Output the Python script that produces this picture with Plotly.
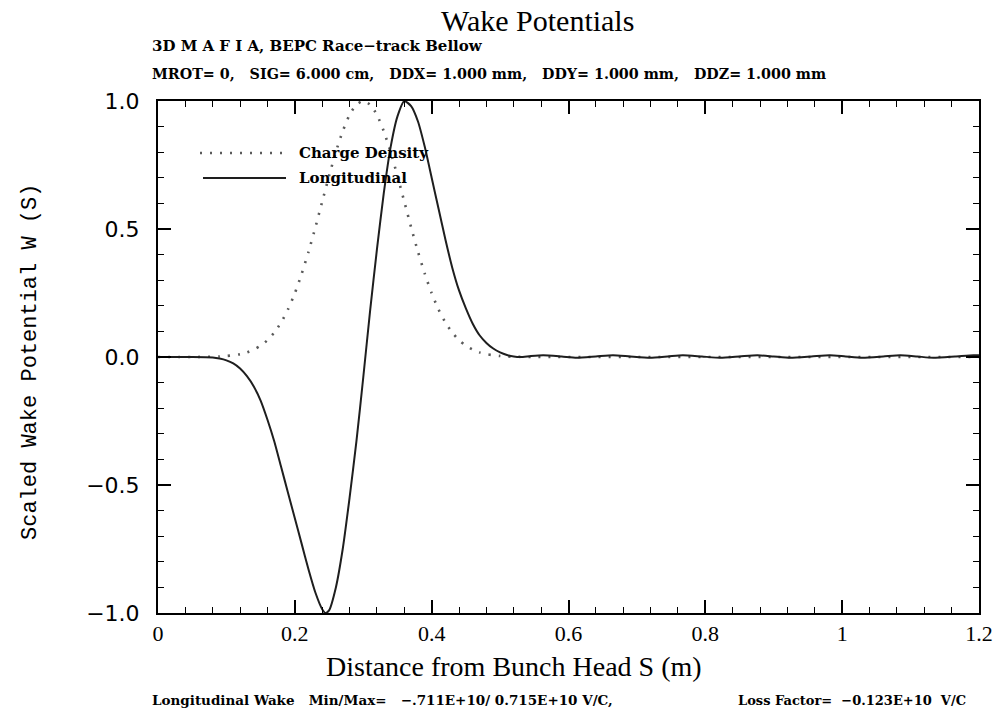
import plotly.graph_objects as go

# ---- data ----
# Longitudinal wake (scaled), s in metres
s_long = [0.00, 0.05, 0.08, 0.09, 0.10, 0.11, 0.12, 0.13, 0.14, 0.15, 0.16, 0.17,
          0.18, 0.19, 0.20, 0.21, 0.22, 0.23, 0.24, 0.245, 0.25, 0.26, 0.27, 0.28,
          0.29, 0.30, 0.31, 0.32, 0.33, 0.34, 0.35, 0.36, 0.37, 0.38, 0.39, 0.40,
          0.41, 0.42, 0.43, 0.44, 0.45, 0.46, 0.47, 0.48, 0.49, 0.50, 0.51, 0.52,
          0.53, 0.545, 0.563, 0.59, 0.612, 0.64, 0.665, 0.69, 0.719, 0.745, 0.767,
          0.795, 0.822, 0.85, 0.876, 0.90, 0.924, 0.955, 0.982, 1.005, 1.03, 1.06,
          1.085, 1.11, 1.133, 1.165, 1.192, 1.20]
w_long = [0.0, 0.0, -0.002, -0.006, -0.013, -0.025, -0.045, -0.075, -0.115, -0.17,
          -0.245, -0.33, -0.43, -0.53, -0.63, -0.73, -0.83, -0.92, -0.985, -1.0,
          -0.99, -0.90, -0.75, -0.55, -0.33, -0.08, 0.18, 0.42, 0.64, 0.82, 0.94,
          1.0, 0.98, 0.92, 0.82, 0.70, 0.58, 0.46, 0.35, 0.26, 0.19, 0.13, 0.085,
          0.055, 0.033, 0.018, 0.008, 0.002, 0.0, 0.004, 0.007, 0.002, -0.003,
          0.002, 0.007, 0.002, -0.003, 0.002, 0.007, 0.002, -0.003, 0.002, 0.007,
          0.002, -0.003, 0.002, 0.007, 0.002, -0.003, 0.002, 0.007, 0.002, -0.003,
          0.002, 0.007, 0.007]

# Charge density (scaled)
s_charge = [0.00, 0.05, 0.08, 0.09, 0.10, 0.11, 0.12, 0.13, 0.14, 0.15, 0.16, 0.17,
            0.18, 0.19, 0.20, 0.21, 0.22, 0.23, 0.24, 0.25, 0.26, 0.27, 0.28, 0.29,
            0.30, 0.31, 0.32, 0.33, 0.34, 0.35, 0.36, 0.37, 0.38, 0.39, 0.40, 0.41,
            0.42, 0.43, 0.44, 0.45, 0.46, 0.47, 0.48, 0.49, 0.50, 0.51, 0.52, 0.55,
            0.70, 0.90, 1.20]
q_charge = [0.0, 0.0, 0.001, 0.002, 0.004, 0.007, 0.011, 0.018, 0.029, 0.044, 0.066,
            0.096, 0.135, 0.186, 0.249, 0.325, 0.411, 0.506, 0.607, 0.707, 0.801,
            0.882, 0.946, 0.986, 1.0, 0.986, 0.946, 0.882, 0.801, 0.707, 0.607, 0.506,
            0.411, 0.325, 0.249, 0.186, 0.135, 0.096, 0.066, 0.044, 0.029, 0.018,
            0.011, 0.007, 0.004, 0.002, 0.001, 0.0, 0.0, 0.0, 0.0]

x_ticks = [0, 0.2, 0.4, 0.6, 0.8, 1.0, 1.2]
x_ticklabels = ["0", "0.2", "0.4", "0.6", "0.8", "1", "1.2"]
y_ticks = [-1.0, -0.5, 0.0, 0.5, 1.0]
y_ticklabels = ["\u22121.0", "\u22120.5", "0.0", "0.5", "1.0"]

SERIF = "Liberation Serif"
BOLD_SERIF = "DejaVu Serif"
DOT = "2px,8px"
NB = "\u00a0"

fig = go.Figure()
fig.add_trace(go.Scatter(x=s_charge, y=q_charge, mode="lines", name="Charge Density",
                         line=dict(color="#5a5a5a", width=2.6, dash=DOT, shape="spline",
                                   smoothing=0.6),
                         showlegend=False, hoverinfo="skip"))
fig.add_trace(go.Scatter(x=s_long, y=w_long, mode="lines", name="Longitudinal",
                         line=dict(color="#1e1e1e", width=2, shape="spline", smoothing=0.6),
                         showlegend=False, hoverinfo="skip"))

axis_common = dict(showgrid=False, zeroline=False, showline=True, linecolor="black",
                   linewidth=2, mirror="allticks", ticks="inside", ticklen=13,
                   tickwidth=1.5, tickcolor="black", automargin=False)

fig.update_xaxes(range=[0, 1.2], tickvals=x_ticks, ticktext=x_ticklabels,
                 tickfont=dict(family=SERIF, size=22, color="black"),
                 ticklabeloverflow="allow",
                 minor=dict(dtick=0.04, ticks="inside", ticklen=6, tickwidth=1.2,
                            tickcolor="black", showgrid=False),
                 **axis_common)
fig.update_yaxes(range=[-1.0, 1.0], tickvals=y_ticks, ticktext=y_ticklabels,
                 tickfont=dict(family="DejaVu Sans", size=22, color="black"),
                 ticklabelstandoff=12,
                 minor=dict(dtick=0.1, ticks="inside", ticklen=6, tickwidth=1.2,
                            tickcolor="black", showgrid=False),
                 **axis_common)

# helpers converting reference-picture pixels to paper coordinates of the plot area
def px_x(px):
    return (px - 158) / 821.0

def px_y(py):
    return (613 - py) / 512.0

ann = []
ann.append(dict(text="Wake Potentials", x=px_x(537), y=px_y(20), xanchor="center",
                yanchor="middle", font=dict(family=SERIF, size=30, color="black")))
ann.append(dict(text="<b>3D M A F I A, BEPC Race\u2212track Bellow</b>", x=px_x(150),
                y=px_y(46), xanchor="left", yanchor="middle",
                font=dict(family=BOLD_SERIF, size=15, color="black")))
sep = "," + NB + NB + NB
ann.append(dict(text="<b>MROT= 0" + sep + "SIG= 6.000 cm" + sep + "DDX= 1.000 mm" + sep
                + "DDY= 1.000 mm" + sep + "DDZ= 1.000 mm</b>",
                x=px_x(150), y=px_y(74), xanchor="left", yanchor="middle",
                font=dict(family=BOLD_SERIF, size=14.3, color="black")))
ann.append(dict(text="<b>Charge Density</b>", x=px_x(297), y=px_y(153), xanchor="left",
                yanchor="middle", font=dict(family=BOLD_SERIF, size=15, color="black")))
ann.append(dict(text="<b>Longitudinal</b>", x=px_x(297), y=px_y(178), xanchor="left",
                yanchor="middle", font=dict(family=BOLD_SERIF, size=15, color="black")))
ann.append(dict(text="Distance from Bunch Head S (m)", x=px_x(514), y=px_y(666),
                xanchor="center", yanchor="middle",
                font=dict(family=SERIF, size=28, color="black")))
ann.append(dict(text="Scaled Wake Potential W (S)", x=px_x(30), y=px_y(362),
                xanchor="center", yanchor="middle", textangle=-90,
                font=dict(family="Liberation Mono", size=22, color="black")))
ann.append(dict(text="<b>Longitudinal Wake" + NB + NB + NB + "Min/Max=" + NB + NB + NB
                + "\u2212.711E+10/ 0.715E+10 V/C,</b>",
                x=px_x(150), y=px_y(700), xanchor="left", yanchor="middle",
                font=dict(family=BOLD_SERIF, size=13.5, color="black")))
ann.append(dict(text="<b>Loss Factor=" + NB + NB + "\u22120.123E+10" + NB + NB + "V/C</b>",
                x=px_x(968), y=px_y(700), xanchor="right", yanchor="middle",
                font=dict(family=BOLD_SERIF, size=13, color="black")))
for a in ann:
    a.update(xref="paper", yref="paper", showarrow=False)

shapes = [
    dict(type="line", xref="paper", yref="paper", x0=px_x(200), x1=px_x(286),
         y0=px_y(153), y1=px_y(153), line=dict(color="#5a5a5a", width=2.6, dash=DOT)),
    dict(type="line", xref="paper", yref="paper", x0=px_x(203), x1=px_x(286),
         y0=px_y(178), y1=px_y(178), line=dict(color="#1e1e1e", width=2)),
]

fig.update_layout(width=993, height=715, margin=dict(l=158, r=14, t=101, b=102),
                  paper_bgcolor="white", plot_bgcolor="white", annotations=ann,
                  shapes=shapes, showlegend=False, hovermode=False)

# remove the default 8px page margin so the figure fills the window exactly
fig.write_html("out.html", config={"displayModeBar": False},
               post_script="document.body.style.margin='0';document.body.style.overflow='hidden';")
